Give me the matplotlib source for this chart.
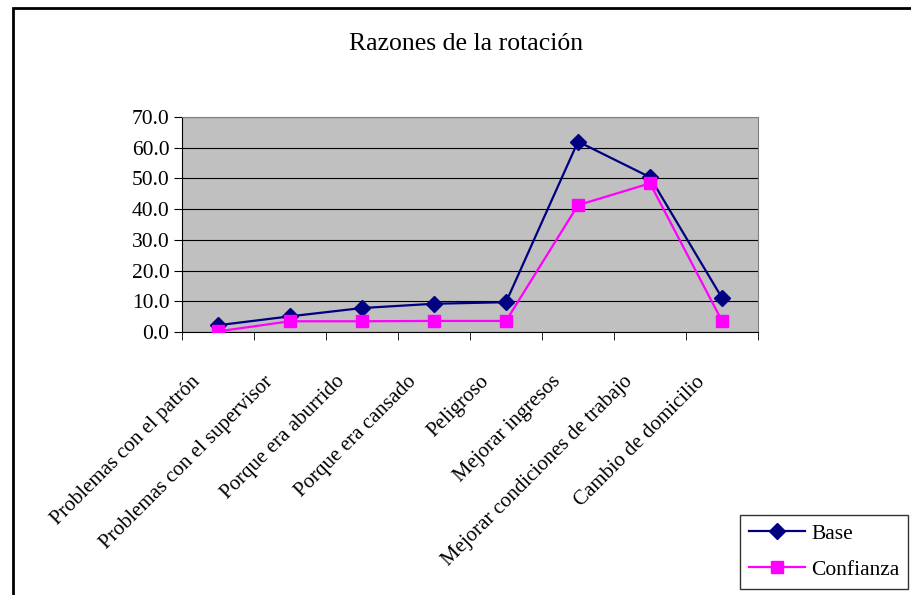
import matplotlib.pyplot as plt
import matplotlib.patches as patches
import matplotlib.transforms as mtransforms
from matplotlib.ticker import FormatStrFormatter, FixedLocator
import numpy as np

plt.rcParams['font.family'] = ['Liberation Serif', 'DejaVu Serif']

categorias = ['Problemas con el patrón', 'Problemas con el supervisor',
              'Porque era aburrido', 'Porque era cansado', 'Peligroso',
              'Mejorar ingresos', 'Mejorar condiciones de trabajo',
              'Cambio de domicilio']
base = [2.2, 5.1, 7.8, 9.2, 9.7, 62.0, 50.4, 11.1]
confianza = [0.2, 3.5, 3.5, 3.6, 3.6, 41.3, 48.4, 3.6]

fig = plt.figure(figsize=(9.11, 5.95), dpi=100)
ax = fig.add_axes([182/911, 1-332/595, (758-182)/911, (332-117)/595])
ax.set_facecolor('#C0C0C0')

x = np.arange(len(categorias))
ax.plot(x, base, color='#000080', marker='D', markersize=8.5, lw=1.6, label='Base', zorder=3)
ax.plot(x, confianza, color='#FF00FF', marker='s', markersize=8, lw=1.6, label='Confianza', zorder=3)

ax.set_xlim(-0.5, len(categorias) - 0.5)
ax.set_ylim(0, 70)
ax.set_yticks(np.arange(0, 71, 10))
ax.yaxis.set_major_formatter(FormatStrFormatter('%.1f'))
ax.yaxis.grid(True, color='black', lw=0.8)
ax.set_axisbelow(True)

# etiquetas de categoria a mano, corridas a la izquierda como en excel
ax.set_xticks(x)
ax.set_xticklabels([])
offset = mtransforms.ScaledTranslation(-20/100, -47/100, fig.dpi_scale_trans)
for i, cat in enumerate(categorias):
    ax.text(i, 0, cat, transform=ax.get_xaxis_transform() + offset,
            rotation=45, ha='right', va='center', rotation_mode='anchor',
            fontsize=15, clip_on=False)
ax.xaxis.set_minor_locator(FixedLocator(np.arange(-0.5, len(categorias), 1)))
ax.tick_params(axis='x', which='major', length=0)
ax.tick_params(axis='x', which='minor', length=6, direction='out', color='black')
ax.tick_params(axis='y', length=6, direction='out', labelsize=15.5, pad=3)

for s in ['top', 'right']:
    ax.spines[s].set_color('#808080')
ax.spines['left'].set_color('black')
ax.spines['bottom'].set_color('black')

fig.text(466/911, 1 - 44/595, 'Razones de la rotación',
         ha='center', va='center', fontsize=18.5)

frame = patches.Rectangle((13/911, -0.02), 1.0, 1 - 8/595 + 0.02, transform=fig.transFigure,
                          fill=False, edgecolor='black', lw=2, clip_on=False)
fig.patches.append(frame)

leg = ax.legend(loc='upper left', bbox_to_anchor=(740/911, 1 - 515/595),
                bbox_transform=fig.transFigure, fontsize=15.5, frameon=True,
                fancybox=False, edgecolor='black', handlelength=2.6,
                handletextpad=0.3, borderpad=0.4, labelspacing=0.75,
                borderaxespad=0)
leg.get_frame().set_linewidth(1)

fig.savefig('out.png', dpi=100)
